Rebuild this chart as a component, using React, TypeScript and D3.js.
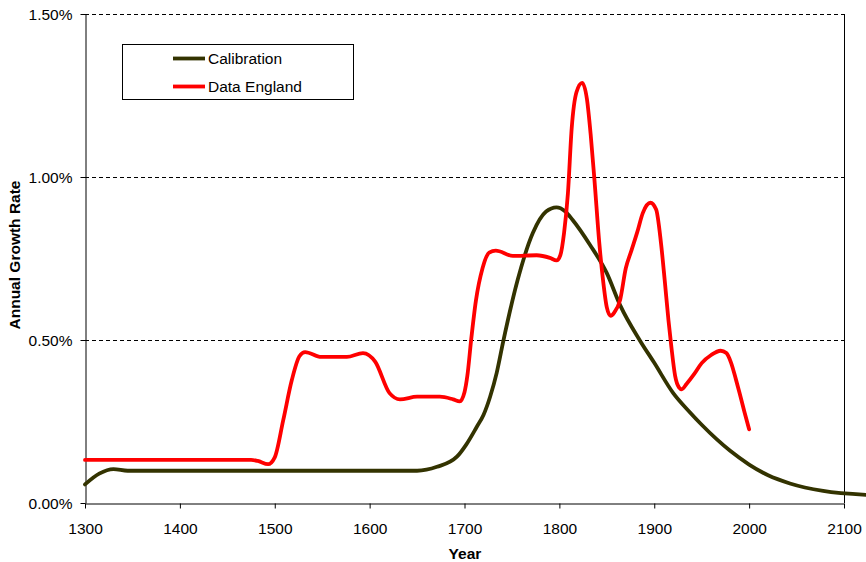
import React, { useEffect, useRef } from "react";
import * as d3 from "d3";

// Calibration (model) series: year, annual growth rate in %
const calibYears = [
  1300, 1315, 1330, 1345, 1400, 1500, 1600, 1650, 1671, 1692, 1702, 1713, 1720,
  1727, 1734, 1741, 1756, 1772, 1786, 1797, 1806, 1814, 1832, 1850, 1864, 1885,
  1900, 1920, 1937, 1950, 1966, 1980, 2000, 2020, 2043, 2078, 2123,
];
const calibValues = [
  0.057, 0.09, 0.104, 0.099, 0.099, 0.099, 0.099, 0.099, 0.111, 0.142, 0.18,
  0.234, 0.27, 0.326, 0.4, 0.498, 0.684, 0.828, 0.894, 0.907, 0.895, 0.868,
  0.793, 0.705, 0.607, 0.498, 0.43, 0.337, 0.28, 0.24, 0.195, 0.16, 0.118,
  0.085, 0.06, 0.037, 0.025,
];

// Data England series
const englandYears = [
  1300, 1475, 1482, 1493, 1500, 1509, 1518, 1526, 1532, 1549, 1576, 1593, 1606,
  1621, 1632, 1650, 1674, 1688, 1695, 1700, 1703, 1707, 1712, 1719, 1726, 1733,
  1751, 1776, 1790, 1797, 1801, 1805, 1809, 1813, 1818, 1824, 1829, 1833, 1837,
  1842, 1846, 1850, 1854, 1858, 1864, 1870, 1876, 1882, 1888, 1896, 1902, 1907,
  1911, 1915, 1918, 1922, 1926, 1929, 1934, 1942, 1950, 1960, 1970, 1976, 1981,
  1986, 1990, 1995, 2000,
];
const englandValues = [
  0.132, 0.132, 0.129, 0.119, 0.14, 0.255, 0.377, 0.45, 0.463, 0.448, 0.448,
  0.46, 0.433, 0.337, 0.318, 0.326, 0.326, 0.318, 0.312, 0.34, 0.39, 0.5, 0.62,
  0.72, 0.768, 0.774, 0.758, 0.76, 0.752, 0.744, 0.76, 0.83, 0.95, 1.15, 1.26,
  1.289, 1.24, 1.13, 0.99, 0.8, 0.684, 0.6, 0.574, 0.585, 0.623, 0.72, 0.775,
  0.83, 0.89, 0.921, 0.9, 0.8, 0.684, 0.56, 0.48, 0.39, 0.355, 0.349, 0.365,
  0.395, 0.429, 0.454, 0.467, 0.46, 0.43, 0.38, 0.337, 0.28, 0.226,
];

const xTicks = [1300, 1400, 1500, 1600, 1700, 1800, 1900, 2000, 2100];
const yTicks = [0, 0.5, 1.0, 1.5];
const seriesNames = ["Calibration", "Data England"];
const seriesColors = ["#333300", "#ff0000"];

const W = 866;
const H = 562;
const plot = { left: 85, right: 844, top: 14, bottom: 503 };
const font = "'Liberation Sans', Arial, sans-serif";
const fs = 15.5;

export default function App() {
  const ref = useRef<SVGSVGElement>(null);

  useEffect(() => {
    const svg = d3.select(ref.current);
    svg.selectAll("*").remove();

    const x = d3.scaleLinear().domain([1300, 2100]).range([plot.left, plot.right]);
    const y = d3.scaleLinear().domain([0, 1.5]).range([plot.bottom, plot.top]);

    // gridlines
    svg
      .append("g")
      .selectAll("line")
      .data(yTicks.filter((t) => t > 0))
      .enter()
      .append("line")
      .attr("x1", plot.left)
      .attr("x2", plot.right)
      .attr("y1", (d) => Math.round(y(d)) + 0.5)
      .attr("y2", (d) => Math.round(y(d)) + 0.5)
      .attr("stroke", "#000")
      .attr("stroke-width", 1)
      .attr("stroke-dasharray", "4,3");

    // right border
    svg
      .append("line")
      .attr("x1", plot.right + 0.5)
      .attr("x2", plot.right + 0.5)
      .attr("y1", plot.top)
      .attr("y2", plot.bottom)
      .attr("stroke", "#000");

    // axes
    const xAxis = d3
      .axisBottom(x)
      .tickValues(xTicks)
      .tickFormat((d) => String(d))
      .tickSizeInner(5)
      .tickSizeOuter(0);
    const gx = svg
      .append("g")
      .attr("transform", `translate(0,${plot.bottom + 0.5})`)
      .call(xAxis);
    gx.select(".domain").attr("stroke", "#000");
    gx.selectAll("text")
      .attr("font-family", font)
      .attr("font-size", fs)
      .attr("fill", "#000")
      .attr("y", 30)
      .attr("dy", "0");

    const yAxis = d3
      .axisLeft(y)
      .tickValues(yTicks)
      .tickFormat((d) => `${(+d).toFixed(2)}%`)
      .tickSizeInner(5)
      .tickSizeOuter(0);
    const gy = svg
      .append("g")
      .attr("transform", `translate(${plot.left + 0.5},0)`)
      .call(yAxis);
    gy.select(".domain").attr("stroke", "#000");
    gy.selectAll("text")
      .attr("font-family", font)
      .attr("font-size", fs)
      .attr("fill", "#000")
      .attr("x", -13)
      .attr("dy", "0.38em");

    // series
    const line = d3
      .line<[number, number]>()
      .x((d) => x(d[0]))
      .y((d) => y(d[1]))
      .curve(d3.curveMonotoneX);

    const series = [
      calibYears.map((yr, i) => [yr, calibValues[i]] as [number, number]),
      englandYears.map((yr, i) => [yr, englandValues[i]] as [number, number]),
    ];
    series.forEach((pts, i) => {
      svg
        .append("path")
        .attr("d", line(pts))
        .attr("fill", "none")
        .attr("stroke", seriesColors[i])
        .attr("stroke-width", 3.8)
        .attr("stroke-linejoin", "round")
        .attr("stroke-linecap", "round");
    });

    // axis titles
    svg
      .append("text")
      .attr("x", 465)
      .attr("y", 559)
      .attr("text-anchor", "middle")
      .attr("font-family", font)
      .attr("font-size", fs)
      .attr("font-weight", "bold")
      .text("Year");
    svg
      .append("text")
      .attr("transform", `translate(20,255) rotate(-90)`)
      .attr("text-anchor", "middle")
      .attr("font-family", font)
      .attr("font-size", fs)
      .attr("font-weight", "bold")
      .text("Annual Growth Rate");

    // legend
    const lg = svg.append("g").attr("transform", "translate(122.5,44.5)");
    lg.append("rect")
      .attr("width", 231)
      .attr("height", 55)
      .attr("fill", "#fff")
      .attr("stroke", "#000");
    seriesNames.forEach((name, i) => {
      const ly = 14 + i * 28;
      lg.append("line")
        .attr("x1", 50.5)
        .attr("x2", 82.5)
        .attr("y1", ly)
        .attr("y2", ly)
        .attr("stroke", seriesColors[i])
        .attr("stroke-width", 3.8);
      lg.append("text")
        .attr("x", 85.5)
        .attr("y", ly + 5)
        .attr("font-family", font)
        .attr("font-size", fs)
        .text(name);
    });
  }, []);

  return (
    <svg
      ref={ref}
      width={W}
      height={H}
      style={{ position: "absolute", left: 0, top: 0, background: "#fff" }}
    />
  );
}
